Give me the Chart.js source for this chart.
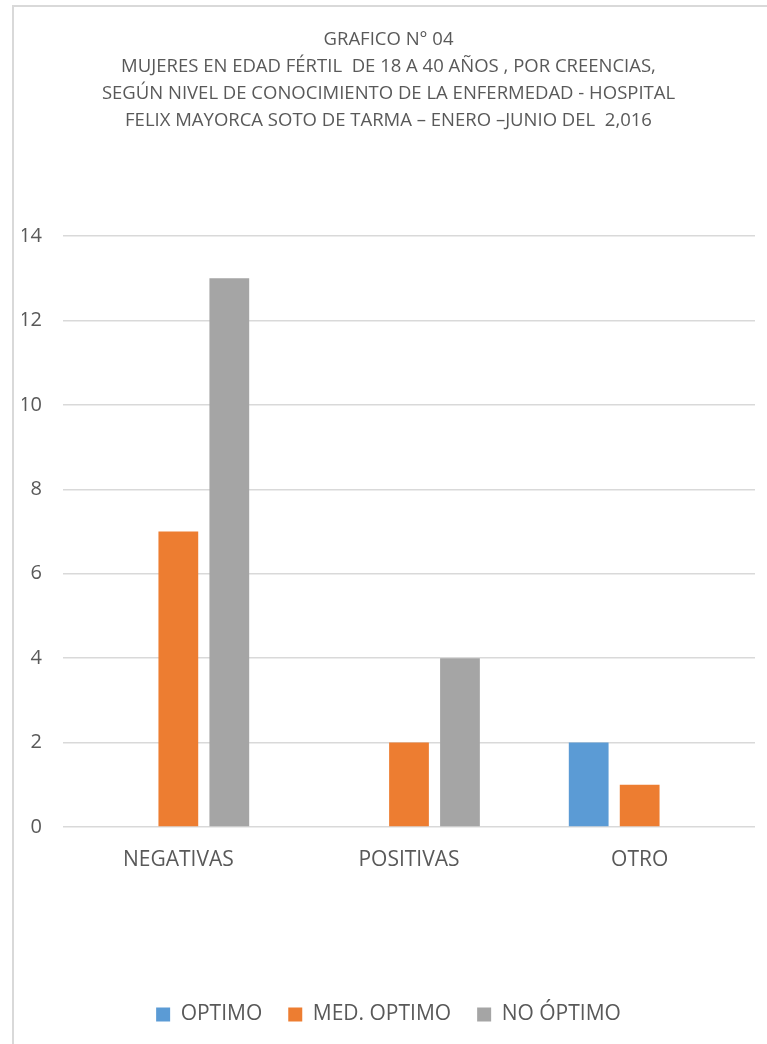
<!DOCTYPE html>
<html>
<head>
<meta charset="utf-8">
<script src="https://cdn.jsdelivr.net/npm/chart.js@4"></script>
<style>
  html, body { margin: 0; padding: 0; background: #fff; overflow: hidden; }
  #frame {
    position: absolute; left: 12px; top: 5px;
    width: 800px; height: 1100px;
    border: 2px solid #d9d9d9;
  }
  #wrap { position: absolute; left: 0; top: 0; width: 767px; height: 1044px; }
</style>
</head>
<body>
<div id="frame"></div>
<div id="wrap"><canvas id="chart" width="767" height="1044"></canvas></div>
<script>
// DATA
const categories = ["NEGATIVAS", "POSITIVAS", "OTRO"];
const optimo = [0, 0, 2];
const medOptimo = [7, 2, 1];
const noOptimo = [13, 4, 0];
const seriesNames = ["OPTIMO", "MED. OPTIMO", "NO ÓPTIMO"];
const titleLines = [
  "GRAFICO N° 04",
  "MUJERES EN EDAD FÉRTIL  DE 18 A 40 AÑOS , POR CREENCIAS,",
  "SEGÚN NIVEL DE CONOCIMIENTO DE LA ENFERMEDAD - HOSPITAL",
  "FELIX MAYORCA SOTO DE TARMA – ENERO –JUNIO DEL  2,016"
];

const FONT = "'Open Sans', sans-serif";
const TEXT = '#595959';

const ctx = document.querySelector('#chart');

new Chart(ctx, {
  type: 'bar',
  data: {
    labels: categories,
    datasets: [
      { label: seriesNames[0], data: optimo, backgroundColor: '#5B9BD5' },
      { label: seriesNames[1], data: medOptimo, backgroundColor: '#ED7D31' },
      { label: seriesNames[2], data: noOptimo, backgroundColor: '#A5A5A5' }
    ]
  },
  options: {
    responsive: false,
    animation: false,
    categoryPercentage: 0.663,
    barPercentage: 0.78,
    layout: {
      padding: { left: 22, right: 12, top: 0, bottom: 9 }
    },
    plugins: {
      title: {
        display: true,
        text: titleLines,
        color: TEXT,
        font: { family: FONT, size: 18.5, weight: 'normal', lineHeight: 1.46 },
        padding: { top: 26, bottom: 102 }
      },
      legend: {
        position: 'bottom',
        labels: {
          color: TEXT,
          font: { family: FONT, size: 21 },
          boxWidth: 14,
          boxHeight: 14,
          padding: 26
        }
      },
      tooltip: { enabled: false }
    },
    scales: {
      x: {
        grid: { display: false },
        border: { display: false },
        ticks: {
          color: TEXT,
          padding: 12,
          font: { family: FONT, size: 21 }
        },
        afterFit: (scale) => { scale.height = 151; }
      },
      y: {
        min: 0,
        max: 14,
        grid: {
          color: '#d9d9d9',
          lineWidth: 1.5,
          drawTicks: false
        },
        border: { display: false },
        ticks: {
          stepSize: 2,
          color: TEXT,
          padding: 21,
          font: { family: FONT, size: 20 }
        },
        afterFit: (scale) => { scale.width = 41; }
      }
    }
  }
});
</script>
</body>
</html>
